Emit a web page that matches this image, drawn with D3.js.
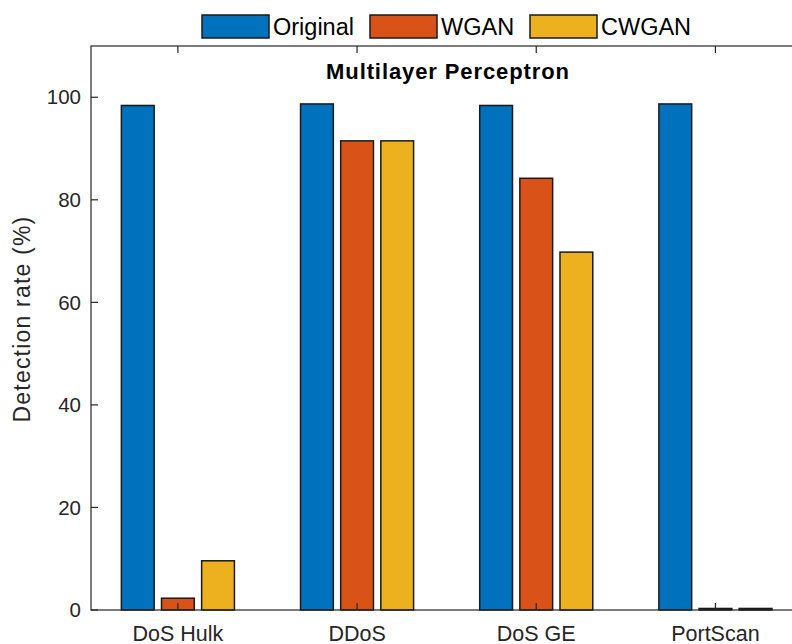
<!DOCTYPE html>
<html><head><meta charset="utf-8">
<script src="https://cdn.jsdelivr.net/npm/d3@7"></script>
<style>body{margin:0;background:#fff}svg{display:block}text{font-family:"Liberation Sans",Arial,sans-serif;fill:#262626}</style>
</head><body><svg id="c" width="792" height="644"></svg>
<script>
const categories = ["DoS Hulk","DDoS","DoS GE","PortScan"];
const seriesNames = ["Original","WGAN","CWGAN"];
const original = [98.4, 98.7, 98.4, 98.7];
const wgan = [2.3, 91.5, 84.2, 0.3];
const cwgan = [9.6, 91.5, 69.8, 0.3];
const yTicks = [0,20,40,60,80,100];
const colors = ["#0072BD","#D95319","#EDB120"];
const series = [original, wgan, cwgan];

const svg = d3.select("#c");
const L = 91, R = 805, T = 46, B = 610;
const x = d3.scaleLinear().domain([0.515, 4.5]).range([L, R]);
const y = d3.scaleLinear().domain([0, 110]).range([B, T]);
const axisColor = "#262626";

// bars
const bw = 0.183, off = 0.224;
series.forEach((s, si) => {
  svg.append("g").selectAll("rect").data(s).join("rect")
    .attr("x", (d, i) => x(i + 1 + (si - 1) * off - bw / 2))
    .attr("width", x(1 + bw) - x(1))
    .attr("y", d => y(d))
    .attr("height", d => y(0) - y(d))
    .attr("fill", colors[si])
    .attr("stroke", "#1a1a1a").attr("stroke-width", 1.5);
});

// axes box
const g = svg.append("g");
g.append("rect").attr("x", L).attr("y", T).attr("width", R - L).attr("height", B - T)
  .attr("fill", "none").attr("stroke", axisColor).attr("stroke-width", 1.2);

// y ticks
const tl = 7;
yTicks.forEach(t => {
  g.append("line").attr("x1", L).attr("x2", L + tl).attr("y1", y(t)).attr("y2", y(t)).attr("stroke", axisColor).attr("stroke-width", 1.2);
  g.append("line").attr("x1", R).attr("x2", R - tl).attr("y1", y(t)).attr("y2", y(t)).attr("stroke", axisColor).attr("stroke-width", 1.2);
  g.append("text").attr("x", L - 10).attr("y", y(t)).attr("dy", "0.35em").attr("text-anchor", "end")
    .style("font-size", "20.5px").text(t);
});
// x ticks
categories.forEach((c, i) => {
  const xx = x(i + 1);
  g.append("line").attr("x1", xx).attr("x2", xx).attr("y1", B).attr("y2", B - tl).attr("stroke", axisColor).attr("stroke-width", 1.2);
  g.append("line").attr("x1", xx).attr("x2", xx).attr("y1", T).attr("y2", T + tl).attr("stroke", axisColor).attr("stroke-width", 1.2);
  g.append("text").attr("x", xx).attr("y", 641).attr("text-anchor", "middle")
    .style("font-size", "21.5px").text(c);
});

// y label
svg.append("text").attr("transform", `translate(30,319) rotate(-90)`)
  .attr("text-anchor", "middle").style("font-size", "23px").style("letter-spacing", "1.2px").text("Detection rate (%)");

// title
svg.append("text").attr("x", (L + R) / 2).attr("y", 79).attr("text-anchor", "middle")
  .style("font-size", "22px").style("font-weight", "bold").style("fill", "#000").style("letter-spacing", "0.9px").text("Multilayer Perceptron");

// legend
const legX = [202, 370, 530];
seriesNames.forEach((n, i) => {
  svg.append("rect").attr("x", legX[i]).attr("y", 15).attr("width", 67).attr("height", 23)
    .attr("fill", colors[i]).attr("stroke", "#1a1a1a").attr("stroke-width", 1.5);
  svg.append("text").attr("x", legX[i] + 71).attr("y", 27).attr("dy", "0.35em")
    .style("font-size", "23.5px").style("fill", "#000").text(n);
});
</script></body></html>
